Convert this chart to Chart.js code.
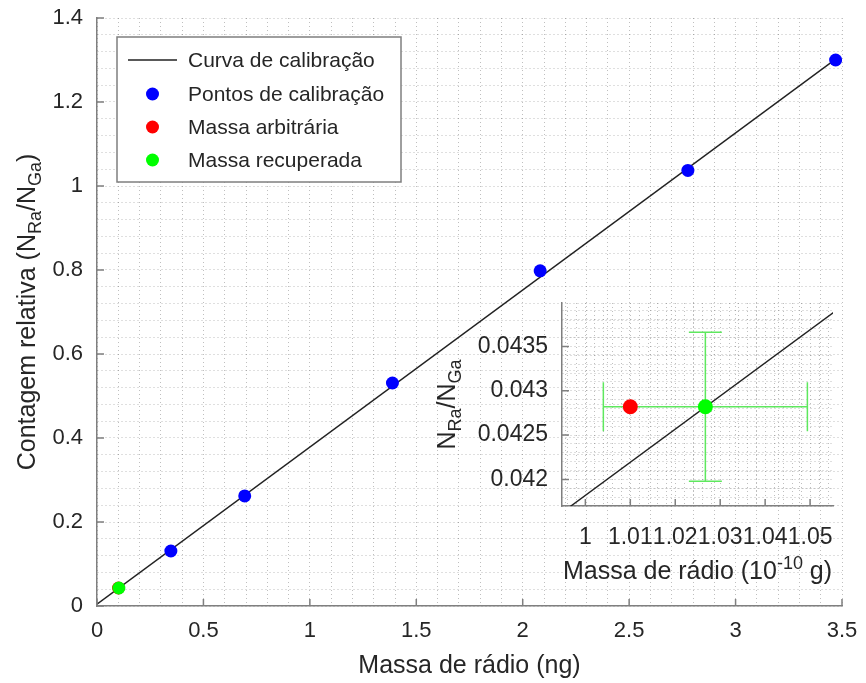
<!DOCTYPE html>
<html>
<head>
<meta charset="utf-8">
<script src="https://cdn.jsdelivr.net/npm/chart.js@4.4.0/dist/chart.umd.min.js"></script>
<style>
  html, body { margin: 0; padding: 0; background: #fff; }
  #wrap { position: relative; width: 866px; height: 683px; }
  #wrap canvas { position: absolute; left: 0; top: 0; }
</style>
</head>
<body>
<div id="wrap">
  <canvas id="mainChart" width="866" height="683"></canvas>
  <canvas id="insetChart" width="866" height="683"></canvas>
</div>
<script>
// calibration points (ng, N_Ra/N_Ga)
const calMass = [0.347, 0.694, 1.388, 2.082, 2.776, 3.470];
const calCount = [0.131, 0.262, 0.531, 0.798, 1.037, 1.300];
// fitted calibration line, end points
const fitMass = [0, 3.47];
const fitCount = [0.0044, 1.302];
// arbitrary / recovered mass (ng)
const arbMass = [0.1010];
const recMass = [0.10267];
const sampleCount = [0.04282];
// inset, mass in 10^-10 g
const insetFitMass = [0.99, 1.06];
const insetFitCount = [0.041446, 0.044063];
const insetArbMass = [1.010];
const insetRecMass = [1.0267];
const recMassErr = [0.0227];
const recCountErr = [0.00084];

const xTicks = [0, 0.5, 1, 1.5, 2, 2.5, 3, 3.5];
const yTicks = [0, 0.2, 0.4, 0.6, 0.8, 1, 1.2, 1.4];
const insetXTicks = [1, 1.01, 1.02, 1.03, 1.04, 1.05];
const insetYTicks = [0.042, 0.0425, 0.043, 0.0435];

const labels = ['Curva de calibração', 'Pontos de calibração', 'Massa arbitrária', 'Massa recuperada'];

const FONT = '"Liberation Sans", Arial, sans-serif';
const TEXT = '#262626';
const AXIS = '#7f7f7f';
const GRID = 'rgba(0,0,0,0.25)';

function tickLabel(list) {
  return v => {
    const t = list.find(t => Math.abs(t - v) < 1e-9);
    return t === undefined ? '' : String(t);
  };
}

function pts(xs, ys) {
  return xs.map((x, i) => ({ x: x, y: ys[i] }));
}

// text with sub/superscripts, centred on (x, y)
function drawRich(ctx, parts, size, x, y, rotate) {
  ctx.save();
  ctx.translate(x, y);
  if (rotate) ctx.rotate(-Math.PI / 2);
  ctx.fillStyle = TEXT;
  ctx.textAlign = 'left';
  ctx.textBaseline = 'alphabetic';
  const small = Math.round(size * 0.7);
  let total = 0;
  parts.forEach(p => {
    ctx.font = ((p.sub || p.sup) ? small : size) + 'px ' + FONT;
    p.w = ctx.measureText(p.t).width;
    total += p.w;
  });
  let cx = -total / 2;
  parts.forEach(p => {
    ctx.font = ((p.sub || p.sup) ? small : size) + 'px ' + FONT;
    let dy = size * 0.36;
    if (p.sub) dy += size * 0.25;
    if (p.sup) dy -= size * 0.4;
    ctx.fillText(p.t, cx, dy);
    cx += p.w;
  });
  ctx.restore();
}

// short ticks pointing into the plot
function inwardTicks(xList, yList, len) {
  return {
    id: 'inwardTicks',
    afterDraw(chart) {
      const ctx = chart.ctx;
      const xs = chart.scales.x, ys = chart.scales.y;
      const area = chart.chartArea;
      ctx.save();
      ctx.strokeStyle = AXIS;
      ctx.lineWidth = 1.5;
      ctx.beginPath();
      xList.forEach(v => {
        const px = xs.getPixelForValue(v);
        ctx.moveTo(px, area.bottom);
        ctx.lineTo(px, area.bottom - len);
      });
      yList.forEach(v => {
        const py = ys.getPixelForValue(v);
        ctx.moveTo(area.left, py);
        ctx.lineTo(area.left + len, py);
      });
      ctx.stroke();
      ctx.restore();
    }
  };
}

const mainTitles = {
  id: 'mainTitles',
  afterDraw(chart) {
    const ctx = chart.ctx;
    drawRich(ctx, [{ t: 'Massa de rádio (ng)' }], 25, 469.5, 664, false);
    drawRich(ctx, [{ t: 'Contagem relativa (N' }, { t: 'Ra', sub: true }, { t: '/N' }, { t: 'Ga', sub: true }, { t: ')' }], 25, 26, 312, true);
  }
};

const boxLegend = {
  id: 'boxLegend',
  afterDraw(chart) {
    const ctx = chart.ctx;
    ctx.save();
    ctx.fillStyle = '#fff';
    ctx.strokeStyle = AXIS;
    ctx.lineWidth = 1.5;
    ctx.fillRect(117, 37, 284, 145);
    ctx.strokeRect(117, 37, 284, 145);
    const rows = [60, 94, 127, 160];
    chart.data.datasets.forEach((ds, i) => {
      const y = rows[i];
      if (ds.showLine) {
        ctx.strokeStyle = ds.borderColor;
        ctx.lineWidth = 1.4;
        ctx.beginPath();
        ctx.moveTo(128, y);
        ctx.lineTo(177, y);
        ctx.stroke();
      } else {
        ctx.fillStyle = ds.backgroundColor;
        ctx.beginPath();
        ctx.arc(152.5, y, 6.5, 0, Math.PI * 2);
        ctx.fill();
      }
      ctx.fillStyle = TEXT;
      ctx.font = '21px ' + FONT;
      ctx.textBaseline = 'middle';
      ctx.fillText(ds.label, 188, y + 1);
    });
    ctx.restore();
  }
};

function axis(min, max, step, list, fit, size, pad) {
  return {
    type: 'linear',
    min: min,
    max: max,
    afterFit: fit,
    grid: { color: GRID, lineWidth: 1, drawTicks: false },
    border: { display: true, color: AXIS, width: 1.5, dash: [1, 3] },
    ticks: {
      stepSize: step,
      autoSkip: false,
      maxRotation: 0,
      includeBounds: false,
      padding: pad,
      color: TEXT,
      font: { family: FONT, size: size },
      callback: tickLabel(list)
    }
  };
}

// fixed axis boxes, no extra room for overhanging labels
function fitX(h) {
  return s => { s.height = h; s.paddingLeft = 0; s.paddingRight = 0; };
}
function fitY(w) {
  return s => { s.width = w; s.paddingTop = 0; s.paddingBottom = 0; };
}

new Chart(document.getElementById('mainChart').getContext('2d'), {
  type: 'scatter',
  data: {
    datasets: [
      { label: labels[0], data: pts(fitMass, fitCount), showLine: true, borderColor: '#222', borderWidth: 1.4, pointRadius: 0, order: 4 },
      { label: labels[1], data: pts(calMass, calCount), backgroundColor: '#0000ff', borderWidth: 0, pointRadius: 6.5, order: 3 },
      { label: labels[2], data: pts(arbMass, sampleCount), backgroundColor: '#ff0000', borderWidth: 0, pointRadius: 6.5, order: 2 },
      { label: labels[3], data: pts(recMass, sampleCount), backgroundColor: '#00ff00', borderWidth: 0, pointRadius: 6.5, order: 1 }
    ]
  },
  options: {
    responsive: false,
    animation: false,
    layout: { padding: { top: 18, right: 24, left: 0, bottom: 0 } },
    scales: {
      x: axis(0, 3.5, 0.1, xTicks, fitX(77), 22, 12),
      y: axis(0, 1.4, 0.04, yTicks, fitY(97), 22, 14)
    },
    plugins: { legend: { display: false }, tooltip: { enabled: false } }
  },
  plugins: [inwardTicks(xTicks, yTicks, 7), mainTitles, boxLegend]
});

const insetTitles = {
  id: 'insetTitles',
  afterDraw(chart) {
    const ctx = chart.ctx;
    drawRich(ctx, [{ t: 'Massa de rádio (10' }, { t: '-10', sup: true }, { t: ' g)' }], 25, 697.5, 570, false);
    drawRich(ctx, [{ t: 'N' }, { t: 'Ra', sub: true }, { t: '/N' }, { t: 'Ga', sub: true }], 25, 446, 404.5, true);
  }
};

const errorBars = {
  id: 'errorBars',
  beforeDatasetsDraw(chart) {
    const ctx = chart.ctx;
    const xs = chart.scales.x, ys = chart.scales.y;
    const cx = xs.getPixelForValue(insetRecMass[0]);
    const cy = ys.getPixelForValue(sampleCount[0]);
    const xl = xs.getPixelForValue(insetRecMass[0] - recMassErr[0]);
    const xr = xs.getPixelForValue(insetRecMass[0] + recMassErr[0]);
    const yt = ys.getPixelForValue(sampleCount[0] + recCountErr[0]);
    const yb = ys.getPixelForValue(sampleCount[0] - recCountErr[0]);
    ctx.save();
    ctx.strokeStyle = '#5ee85e';
    ctx.lineWidth = 1.5;
    ctx.beginPath();
    ctx.moveTo(xl, cy); ctx.lineTo(xr, cy);
    ctx.moveTo(xl, cy - 24.5); ctx.lineTo(xl, cy + 24.5);
    ctx.moveTo(xr, cy - 24.5); ctx.lineTo(xr, cy + 24.5);
    ctx.moveTo(cx, yt); ctx.lineTo(cx, yb);
    ctx.moveTo(cx - 16.5, yt); ctx.lineTo(cx + 16.5, yt);
    ctx.moveTo(cx - 16.5, yb); ctx.lineTo(cx + 16.5, yb);
    ctx.stroke();
    ctx.restore();
  }
};

new Chart(document.getElementById('insetChart').getContext('2d'), {
  type: 'scatter',
  data: {
    datasets: [
      { label: labels[0], data: pts(insetFitMass, insetFitCount), showLine: true, borderColor: '#222', borderWidth: 1.4, pointRadius: 0, order: 3 },
      { label: labels[2], data: pts(insetArbMass, sampleCount), backgroundColor: '#ff0000', borderWidth: 0, pointRadius: 7.5, order: 2 },
      { label: labels[3], data: pts(insetRecMass, sampleCount), backgroundColor: '#00ff00', borderWidth: 0, pointRadius: 7.5, order: 1 }
    ]
  },
  options: {
    responsive: false,
    animation: false,
    layout: { padding: { top: 303, right: 33, left: 0, bottom: 0 } },
    scales: {
      x: axis(0.9948, 1.0551, 0.002, insetXTicks, fitX(177), 23, 18),
      y: axis(0.0417, 0.04399, 0.0001, insetYTicks, fitY(562), 23, 14)
    },
    plugins: { legend: { display: false }, tooltip: { enabled: false } }
  },
  plugins: [inwardTicks(insetXTicks, insetYTicks, 7), errorBars, insetTitles]
});
</script>
</body>
</html>
